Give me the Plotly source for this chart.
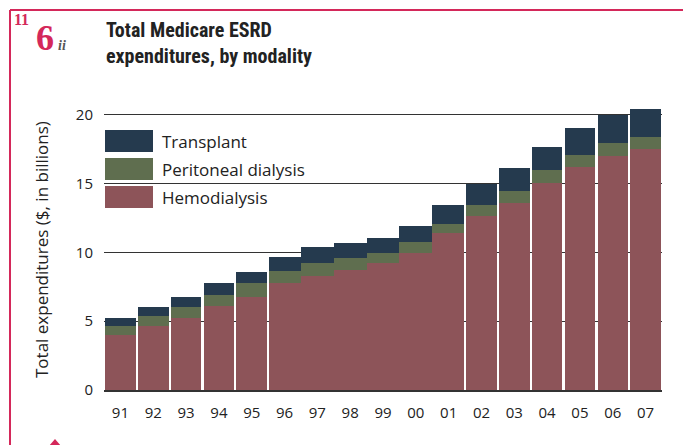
import plotly.graph_objects as go

years = ["91", "92", "93", "94", "95", "96", "97", "98", "99", "00", "01",
         "02", "03", "04", "05", "06", "07"]
hemodialysis = [4.00, 4.68, 5.24, 6.08, 6.76, 7.76, 8.30, 8.73, 9.26, 9.99, 11.39,
                12.65, 13.57, 15.01, 16.24, 16.97, 17.50]
peritoneal = [0.65, 0.70, 0.82, 0.83, 1.00, 0.92, 0.96, 0.85, 0.73, 0.80, 0.68,
              0.78, 0.90, 0.99, 0.85, 0.97, 0.88]
transplant = [0.56, 0.68, 0.68, 0.85, 0.80, 1.02, 1.10, 1.09, 1.09, 1.14, 1.38,
              1.53, 1.65, 1.65, 1.94, 2.01, 2.03]
y_ticks = [0, 5, 10, 15, 20]

C_HD = "#8d5459"
C_PD = "#5f6e4f"
C_TX = "#253a4e"
RED = "#d4285a"
FONT = "Open Sans, Noto Sans, sans-serif"

xs = list(range(len(years)))
# bars 96-01 are drawn touching each other, the rest with thin white gaps
widths, offsets = [], []
for y in years:
    if y == "96":
        widths.append(0.965); offsets.append(-0.465)
    elif y in ("97", "98", "99", "00"):
        widths.append(1.0); offsets.append(-0.5)
    elif y == "01":
        widths.append(0.965); offsets.append(-0.5)
    else:
        widths.append(0.93); offsets.append(-0.465)

fig = go.Figure()
for name, vals, col in [("Hemodialysis", hemodialysis, C_HD),
                        ("Peritoneal dialysis", peritoneal, C_PD),
                        ("Transplant", transplant, C_TX)]:
    fig.add_trace(go.Bar(x=xs, y=vals, name=name, marker_color=col,
                         marker_line_width=0, width=widths, offset=offsets,
                         showlegend=False))

# page body has an 8px margin; work in screen pixels and shift
OFF = 8
W, H = 691 - OFF, 445 - OFF
SL, SR, ST, SB = 104, 662, 101, 390   # plot area in screen pixels
L, R, T, B = SL - OFF, 691 - SR, ST - OFF, 445 - SB
pw, ph = SR - SL, SB - ST


def px(x):
    return (x - SL) / pw


def py(y):
    return (SB - y) / ph


shapes = []
ann = []
# white box behind the legend (hides the gridline)
shapes.append(dict(type="rect", xref="paper", yref="paper", x0=px(104), x1=px(324),
                   y0=py(214), y1=py(122), fillcolor="white", line_width=0, layer="below"))
for i, (name, col) in enumerate([("Transplant", C_TX), ("Peritoneal dialysis", C_PD),
                                 ("Hemodialysis", C_HD)]):
    top = 130 + i * 28
    shapes.append(dict(type="rect", xref="paper", yref="paper", x0=px(105), x1=px(153),
                       y0=py(top + 22), y1=py(top), fillcolor=col, line_width=0, layer="above"))
    ann.append(dict(text=name, xref="paper", yref="paper", x=px(160), y=py(top + 11),
                    xanchor="left", yanchor="middle", showarrow=False,
                    font=dict(family=FONT, size=17, color="#222")))

# red frame
shapes.append(dict(type="line", xref="paper", yref="paper", x0=px(10), x1=px(700),
                   y0=py(10), y1=py(10), line=dict(color=RED, width=2), layer="above"))
shapes.append(dict(type="line", xref="paper", yref="paper", x0=px(10), x1=px(10),
                   y0=py(10), y1=py(450), line=dict(color=RED, width=2), layer="above"))
# small red marker at the bottom
shapes.append(dict(type="path", xref="paper", yref="paper",
                   path=f"M {px(49)} {py(446)} L {px(55)} {py(439)} L {px(61)} {py(446)} Z",
                   fillcolor=RED, line_width=0, layer="above"))

# figure label
ann.append(dict(text="<b>11</b>", xref="paper", yref="paper", x=px(12), y=py(19),
                xanchor="left", yanchor="middle", showarrow=False,
                font=dict(family="Liberation Serif, DejaVu Serif, serif", size=16, color=RED)))
ann.append(dict(text="<b>6</b>", xref="paper", yref="paper", x=px(34), y=py(38),
                xanchor="left", yanchor="middle", showarrow=False,
                font=dict(family="Liberation Serif, DejaVu Serif, serif", size=36, color=RED)))
ann.append(dict(text="<i><b>ii</b></i>", xref="paper", yref="paper", x=px(56), y=py(46),
                xanchor="left", yanchor="middle", showarrow=False,
                font=dict(family="Liberation Serif, DejaVu Serif, serif", size=14, color="#555")))
# title
ann.append(dict(text="<b>Total Medicare ESRD</b><br><b>expenditures, by modality</b>",
                xref="paper", yref="paper", x=px(104), y=py(16),
                xanchor="left", yanchor="top", align="left", showarrow=False,
                font=dict(family="Liberation Sans Narrow, Roboto Condensed, Arial Narrow, sans-serif",
                          size=20, color="#222")))
# y axis title
ann.append(dict(text="Total expenditures ($, in billions)", xref="paper", yref="paper",
                x=px(41), y=py(250), xanchor="center", yanchor="middle", textangle=-90,
                showarrow=False,
                font=dict(family=FONT, size=17, color="#222")))

fig.update_layout(
    width=W, height=H,
    margin=dict(l=L, r=R, t=T, b=B),
    paper_bgcolor="white", plot_bgcolor="white",
    barmode="stack",
    shapes=shapes, annotations=ann,
    showlegend=False,
    xaxis=dict(range=[-0.5, len(years) - 0.5], tickmode="array", tickvals=xs, ticktext=years,
               showgrid=False, showline=True, linecolor="#333", linewidth=2,
               ticks="", ticklabelstandoff=8, zeroline=False,
               tickfont=dict(family=FONT, size=15, color="#222")),
    yaxis=dict(range=[0, 21], tickmode="array", tickvals=y_ticks,
               showgrid=True, gridcolor="#333", gridwidth=1.3, zeroline=False,
               showline=False, ticks="", ticklabelstandoff=10,
               tickfont=dict(family=FONT, size=15, color="#222")),
)

fig.write_html("out.html")
